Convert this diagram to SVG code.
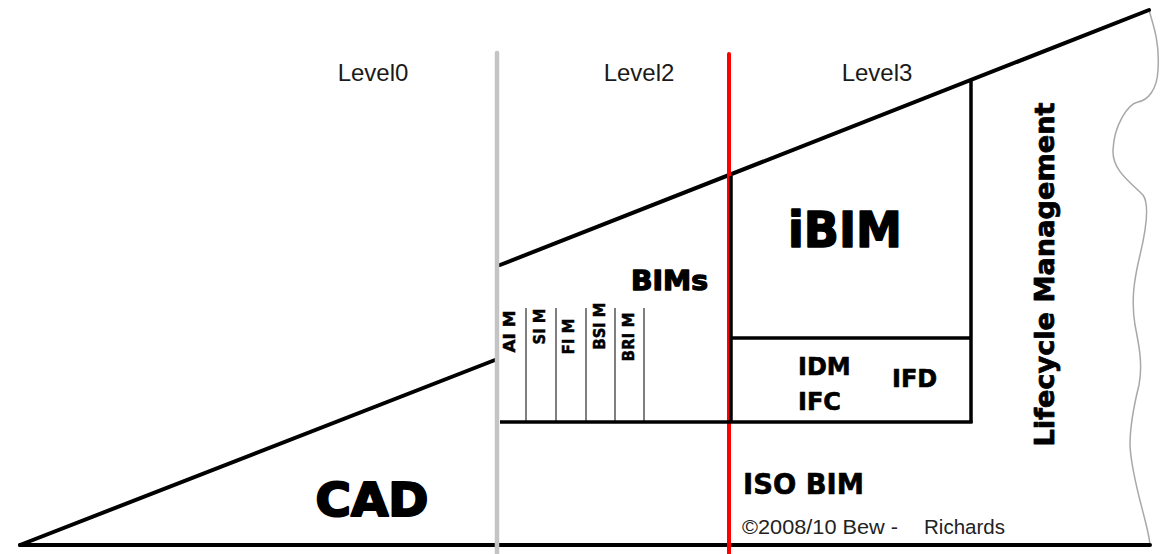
<svg xmlns="http://www.w3.org/2000/svg" width="1160" height="554" viewBox="0 0 1160 554">
  <style>
    .thick { stroke: #000; stroke-width: 4; fill: none; stroke-linecap: round; }
    .box { stroke: #000; stroke-width: 3.5; fill: none; }
    .col { stroke: #555; stroke-width: 1.5; fill: none; }
    .lvl { font-family: "Liberation Sans", Arial, sans-serif; font-size: 24px; fill: #1a1a1a; text-anchor: middle; }
    .big { font-family: "DejaVu Sans", Verdana, sans-serif; font-weight: bold; fill: #000; stroke: #000; stroke-linejoin: round; }
    .tag { font-family: "DejaVu Sans", Verdana, sans-serif; font-weight: bold; fill: #000; stroke: #000; stroke-width: 0.5; font-size: 16px; text-anchor: middle; }
    .copy { font-family: "Liberation Sans", Arial, sans-serif; font-size: 20.5px; fill: #222; }
  </style>
  <rect x="0" y="0" width="1160" height="554" fill="#fff"/>

  <g id="connectors">
    <!-- wavy right edge -->
    <path d="M1149,10 C1152,22 1160,40 1158,70 C1157,90 1148,100 1138,102 C1128,104 1114,125 1113,150 C1112,170 1130,182 1143,195 C1150,205 1146,230 1140,255 C1134,280 1131,300 1135,325 C1139,345 1143,365 1139,385 C1134,405 1130,425 1130,445 C1131,470 1140,500 1145,520 C1148,532 1150,540 1150,546" fill="none" stroke="#a8a8a8" stroke-width="1.5"/>
    <!-- baseline -->
    <line class="thick" x1="20" y1="545" x2="1150" y2="545"/>
    <!-- CAD slope -->
    <line class="thick" x1="20" y1="545" x2="495" y2="360"/>
    <!-- upper slope -->
    <line class="thick" x1="500" y1="265" x2="1149" y2="10"/>
    <!-- BIMs columns -->
    <line class="col" x1="526" y1="308" x2="526" y2="422"/>
    <line class="col" x1="556" y1="308" x2="556" y2="422"/>
    <line class="col" x1="586" y1="308" x2="586" y2="422"/>
    <line class="col" x1="615" y1="308" x2="615" y2="422"/>
    <line class="col" x1="644" y1="308" x2="644" y2="422"/>
    <!-- level separators -->
    <line x1="497" y1="53" x2="497" y2="554" stroke="#c4c4c4" stroke-width="4.5" stroke-linecap="round"/>
    <line x1="729" y1="54" x2="729" y2="554" stroke="#ff0000" stroke-width="4" stroke-linecap="round"/>
    <!-- iBIM box -->
    <line class="box" x1="731" y1="176" x2="731" y2="423"/>
    <line class="box" x1="971" y1="81" x2="971" y2="423"/>
    <line class="box" x1="731" y1="338" x2="971" y2="338"/>
    <line class="box" x1="500" y1="422" x2="972.5" y2="422"/>
  </g>

  <g id="level0"><text class="lvl" x="373" y="81">Level0</text></g>
  <g id="level2"><text class="lvl" x="639" y="81">Level2</text></g>
  <g id="level3"><text class="lvl" x="877" y="81">Level3</text></g>

  <g id="cad"><text class="big" x="372" y="516" font-size="47" stroke-width="2.2" text-anchor="middle" textLength="113" lengthAdjust="spacingAndGlyphs">CAD</text></g>
  <g id="bims"><text class="big" x="669.5" y="290" font-size="26" stroke-width="1.3" text-anchor="middle" textLength="77" lengthAdjust="spacingAndGlyphs">BIMs</text></g>
  <g id="ibim"><text class="big" x="845" y="247" font-size="49" stroke-width="1.6" text-anchor="middle" textLength="114" lengthAdjust="spacingAndGlyphs">iBIM</text></g>

  <g id="aim"><text class="tag" transform="translate(515,331.5) rotate(-90)" textLength="42" lengthAdjust="spacingAndGlyphs">AI M</text></g>
  <g id="sim"><text class="tag" transform="translate(545,326.5) rotate(-90)" textLength="36" lengthAdjust="spacingAndGlyphs">SI M</text></g>
  <g id="fim"><text class="tag" transform="translate(574,336.5) rotate(-90)" textLength="36" lengthAdjust="spacingAndGlyphs">FI M</text></g>
  <g id="bsim"><text class="tag" transform="translate(605,326) rotate(-90)" textLength="47" lengthAdjust="spacingAndGlyphs">BSI M</text></g>
  <g id="brim"><text class="tag" transform="translate(634,337) rotate(-90)" textLength="49" lengthAdjust="spacingAndGlyphs">BRI M</text></g>

  <g id="idm"><text class="big" x="798" y="375" font-size="24" stroke-width="0.6">IDM</text></g>
  <g id="ifc"><text class="big" x="798" y="410" font-size="24" stroke-width="0.6">IFC</text></g>
  <g id="ifd"><text class="big" x="892" y="387" font-size="24" stroke-width="0.6">IFD</text></g>

  <g id="isobim"><text class="big" x="743" y="494" font-size="27.5" stroke-width="0.6" textLength="121" lengthAdjust="spacingAndGlyphs">ISO BIM</text></g>

  <g id="lifecycle"><text class="big" transform="translate(1054,274.5) rotate(-90)" font-size="27" stroke-width="0.8" text-anchor="middle" textLength="344" lengthAdjust="spacingAndGlyphs">Lifecycle Management</text></g>

  <g id="copyright">
    <text class="copy" x="742" y="534" textLength="156" lengthAdjust="spacingAndGlyphs">©2008/10 Bew -</text>
    <text class="copy" x="924" y="534" textLength="81" lengthAdjust="spacingAndGlyphs">Richards</text>
  </g>
</svg>
